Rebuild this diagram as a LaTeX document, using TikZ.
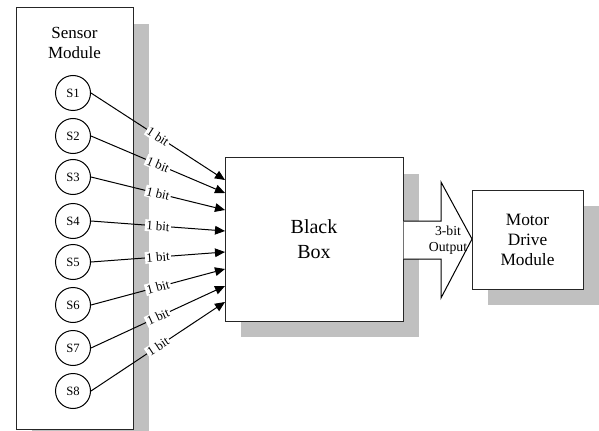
\documentclass[tikz,border=0pt]{standalone}
\usepackage{fontspec}
\setmainfont{Liberation Serif}
\usetikzlibrary{arrows.meta,shadows}
\definecolor{shadowgray}{RGB}{192,192,192}
\begin{document}
\begin{tikzpicture}[x=0.75pt,y=-0.75pt,
  box/.style={draw=black!85, line width=0.75pt, fill=white, inner sep=0pt,
    drop shadow={shadow xshift=12pt, shadow yshift=-12pt, fill=shadowgray, opacity=1}},
  sensorc/.style={circle, draw, fill=white, line width=0.75pt, minimum size=26.25pt,
    inner sep=0pt, font=\fontsize{9.5}{11}\selectfont},
  link/.style={-{Triangle[length=7.5pt,width=6.5pt]}, line width=0.75pt},
  bitlbl/.style={sloped, midway, fill=white, inner sep=1pt, font=\fontsize{9.7}{11}\selectfont}]
\useasboundingbox (0,0) rectangle (599,431);

% Sensor module
\node[box, minimum width=87.75pt, minimum height=315.75pt] (sensor) at (74.5,218.5) {};
\node[align=center, font=\fontsize{12.75}{15}\selectfont] (sensortxt) at (74.5,43) {Sensor\\Module};
\foreach \i/\y in {1/93,2/136,3/177,4/221,5/262,6/305,7/348,8/391}
  \node[sensorc] (s\i) at (73,\y) {S\i};

% Black box
\node[box, minimum width=133.5pt, minimum height=122.25pt, align=center,
  font=\fontsize{15}{18.75}\selectfont] (bb) at (314,239.5) {Black\\Box};

% Output arrow
\draw[line width=0.75pt, fill=white] (403.6,221) -- (441,221) -- (441,182) -- (472,239)
  -- (441,298) -- (441,259) -- (403.6,259);
\node[align=center, font=\fontsize{10.3}{12}\selectfont] (outtxt) at (448,240) {3-bit\\Output};

% Motor drive module
\node[box, minimum width=83.25pt, minimum height=74.25pt, align=center,
  font=\fontsize{13}{15}\selectfont] (motor) at (527.5,239.5) {Motor\\Drive\\Module};

% Links
\foreach \i/\y in {1/180,2/193,3/210,4/231,5/252,6/269,7/286,8/302}{
  \coordinate (t\i) at (225,\y);
  \draw[link] (s\i.east) -- (t\i) node[bitlbl] {1 bit};
}
\end{tikzpicture}
\end{document}
